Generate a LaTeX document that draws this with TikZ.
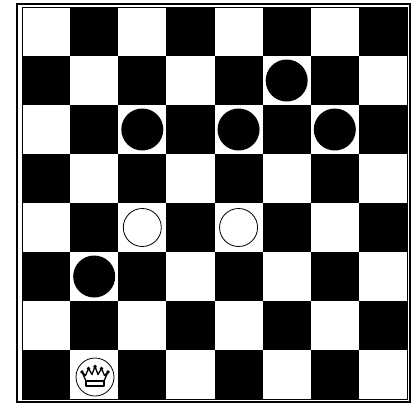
\documentclass[tikz,border=0pt]{standalone}
\begin{document}
\begin{tikzpicture}[x=1pt,y=-1pt,
  blackpiece/.style={fill=black},
  whitepiece/.style={fill=white,draw=black,line width=0.8pt},
  crown/.style={fill=white,draw=black,line width=1.3pt,line join=round}]
\useasboundingbox (0,0) rectangle (420,408);
\fill[white] (0,0) rectangle (420,408);
% squares
\foreach \r in {0,...,7}{
  \foreach \c in {0,...,7}{
    \pgfmathtruncatemacro\odd{mod(\r+\c,2)}
    \ifnum\odd=1
      \fill[black] ({22+48.125*\c},{7+49*\r}) rectangle ({22+48.125*(\c+1)},{7+49*(\r+1)});
    \fi
  }
}
% frame
\draw[line width=0.6pt] (22,7) rectangle (406.9,399);
\draw[line width=1.8pt] (17,4) rectangle (410,402);
% black pieces
\foreach \c/\r in {5/1,2/2,4/2,6/2,1/5}{
  \fill[blackpiece] ({22+48.125*(\c+0.5)},{7+49*(\r+0.5)}) circle (21pt);
}
% white pieces
\foreach \c/\r in {2/4,4/4}{
  \draw[whitepiece] ({22+48.125*(\c+0.5)},{7+49*(\r+0.5)}) circle (19pt);
}
% king
\begin{scope}[shift={(95,377)}]
  \draw[whitepiece] (0,0) circle (19pt);
  \draw[crown] (-9,4) -- (-13,-5) -- (-9.5,-1.5) -- (-6.5,-8.5) -- (-3,-2.5) -- (0,-10.5) -- (3,-2.5) -- (6.5,-8.5) -- (9.5,-1.5) -- (13,-5) -- (9,4) -- cycle;
  \draw[crown] (-9,4) rectangle (9,9);
  \foreach \p in {(-13,-5),(-6.5,-8.5),(0,-10.5),(6.5,-8.5),(13,-5)}{
    \fill[black] \p circle (1.8pt);
  }
\end{scope}
\end{tikzpicture}
\end{document}
